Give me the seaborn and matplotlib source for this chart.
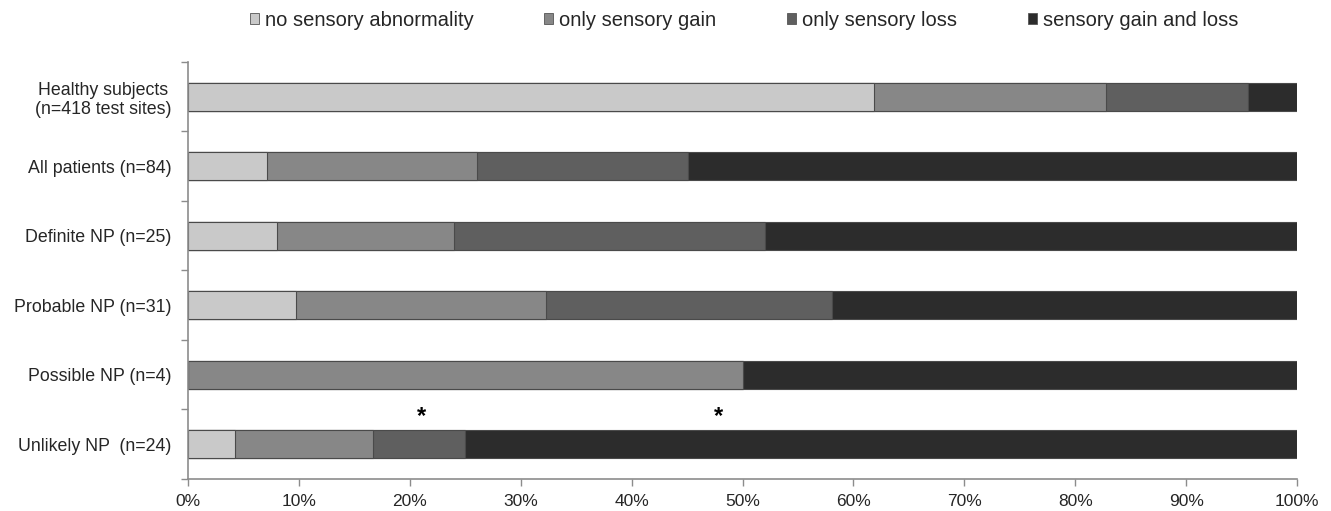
import numpy as np
import pandas as pd
import seaborn as sns
import matplotlib.pyplot as plt
from matplotlib.patches import Patch
from matplotlib.ticker import PercentFormatter, FixedLocator

# data (percent of subjects / test sites per group)
groups = ["Healthy subjects\n(n=418 test sites)", "All patients (n=84)", "Definite NP (n=25)",
          "Probable NP (n=31)", "Possible NP (n=4)", "Unlikely NP  (n=24)"]
no_abnormality = [61.9, 7.1, 8.0, 9.7, 0.0, 4.2]
only_gain = [20.9, 19.0, 16.0, 22.6, 50.0, 12.5]
only_loss = [12.8, 19.0, 28.0, 25.8, 0.0, 8.3]
gain_and_loss = [4.4, 54.9, 48.0, 41.9, 50.0, 75.0]
series_names = ["no sensory abnormality", "only sensory gain", "only sensory loss", "sensory gain and loss"]
series_colors = ["#c9c9c9", "#878787", "#5f5f5f", "#2c2c2c"]
star_x = [21.1, 47.8]
star_row = [4.6, 4.6]

sns.set_theme(style="white")
plt.rcParams['font.family'] = ['Liberation Sans', 'DejaVu Sans']

df = pd.DataFrame({"group": groups, series_names[0]: no_abnormality, series_names[1]: only_gain,
                   series_names[2]: only_loss, series_names[3]: gain_and_loss})
cum = df[series_names].cumsum(axis=1)

fig = plt.figure(figsize=(13.31, 5.11), dpi=100)
ax = fig.add_axes([188 / 1331, 1 - 479 / 511, (1297 - 188) / 1331, (479 - 62) / 511])

# stacked bars: draw cumulative totals from the back to the front
for name, col in reversed(list(zip(series_names, series_colors))):
    sns.barplot(x=cum[name], y=df["group"], color=col, width=0.41, ax=ax,
                edgecolor="#4a4a4a", linewidth=0.8, orient="h")

for x, y in zip(star_x, star_row):
    ax.text(x, y, "*", ha="center", va="center", fontsize=17, fontweight="bold", color="black")

ax.set_xlim(0, 100)
ax.set_ylim(5.5, -0.5)
ax.set_xlabel("")
ax.set_ylabel("")
ax.xaxis.set_major_locator(FixedLocator(np.arange(0, 101, 10)))
ax.xaxis.set_major_formatter(PercentFormatter(decimals=0))
ax.yaxis.set_minor_locator(FixedLocator(np.arange(-0.5, 6, 1)))
ax.tick_params(axis="x", which="major", length=5, width=1, color="#8c8c8c", labelsize=12.5, pad=6, bottom=True)
ax.tick_params(axis="y", which="major", length=0, labelsize=12.8, pad=12)
ax.tick_params(axis="y", which="minor", length=5, width=1, color="#8c8c8c", left=True)
for lab in ax.get_yticklabels():
    lab.set_multialignment("center")

for s in ["top", "right"]:
    ax.spines[s].set_visible(False)
for s in ["left", "bottom"]:
    ax.spines[s].set_color("#8c8c8c")
    ax.spines[s].set_linewidth(1.2)

handles = [Patch(facecolor=c, edgecolor="#555555", linewidth=0.6) for c in series_colors]
fig.legend(handles, series_names, loc="center", bbox_to_anchor=(0.559, 0.96), ncol=4, frameon=False,
           fontsize=14.5, handlelength=0.45, handleheight=0.45, handletextpad=0.3, columnspacing=3.5)

fig.savefig("out.png", dpi=100)
